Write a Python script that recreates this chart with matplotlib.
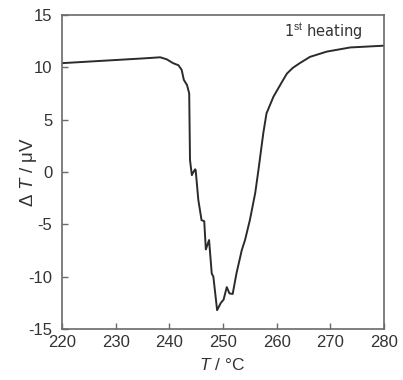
import matplotlib
matplotlib.use("Agg")
import matplotlib.pyplot as plt

# DTA trace (T in degC, dT in uV)
temp = [220.0, 225.0, 230.0, 235.0, 238.3, 239.5, 240.7, 241.7, 242.3, 242.7,
        243.3, 243.7, 243.85, 244.0, 244.2, 244.35, 244.8, 244.9, 245.4, 246.0,
        246.5, 246.8, 247.4, 247.9, 248.2, 248.9, 249.6, 250.1, 250.7, 251.2,
        251.8, 252.5, 253.5, 254.1, 255.0, 256.0, 256.6, 257.5, 258.1, 259.4,
        260.3, 261.2, 261.9, 263.0, 264.3, 266.2, 269.3, 273.7, 280.0]
dT = [10.4, 10.55, 10.7, 10.85, 10.96, 10.77, 10.4, 10.2, 9.75, 8.8,
      8.3, 7.5, 1.15, 0.5, -0.3, -0.12, 0.26, 0.2, -2.67, -4.6,
      -4.7, -7.4, -6.5, -9.7, -10.0, -13.2, -12.5, -12.2, -11.0, -11.6,
      -11.65, -9.7, -7.45, -6.5, -4.6, -2.0, 0.2, 3.7, 5.6, 7.2,
      8.0, 8.8, 9.4, 9.95, 10.4, 11.0, 11.5, 11.9, 12.07]

x_ticks = [220, 230, 240, 250, 260, 270, 280]
y_ticks = [-15, -10, -5, 0, 5, 10, 15]

plt.rcParams["font.family"] = ["Liberation Sans", "DejaVu Sans"]
plt.rcParams["axes.unicode_minus"] = False
plt.rcParams["mathtext.fontset"] = "custom"
plt.rcParams["mathtext.rm"] = "Liberation Sans"
plt.rcParams["mathtext.it"] = "Liberation Sans:italic"

text_col = "#333333"
axis_grey = "#6a6a6a"

fig = plt.figure(figsize=(4.03, 3.80), dpi=100)
ax = fig.add_axes([0.1538, 0.1342, 0.7992, 0.8263])

ax.plot(temp, dT, color="#2b2b2b", linewidth=1.4)

ax.set_xlim(220, 280)
ax.set_ylim(-15, 15)
ax.set_xticks(x_ticks)
ax.set_yticks(y_ticks)

for spine in ax.spines.values():
    spine.set_color(axis_grey)
    spine.set_linewidth(1.2)
ax.tick_params(direction="in", length=4, width=1.0, color=axis_grey,
               labelsize=12, labelcolor=text_col)
ax.tick_params(axis="x", pad=4)
ax.tick_params(axis="y", pad=7)

ax.set_xlabel(r"$\mathit{T}$ / °C", fontsize=12.5, color=text_col)
ax.xaxis.set_label_coords(0.497, -0.09)
ax.set_ylabel(r"$\mathit{Δ\ T}$ / μV", fontsize=13.5, color=text_col)
ax.yaxis.set_label_coords(-0.072, 0.50)

ax.text(0.932, 0.946, r"1$^{\rm st}$ heating", transform=ax.transAxes,
        ha="right", va="center", fontsize=10.5, color=text_col,
        family="DejaVu Sans")

fig.savefig("out.png", dpi=100)
